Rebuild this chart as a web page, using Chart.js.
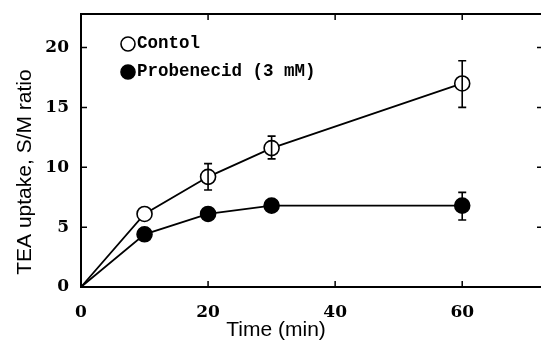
<!DOCTYPE html>
<html>
<head>
<meta charset="utf-8">
<script src="https://cdn.jsdelivr.net/npm/chart.js@4/dist/chart.umd.min.js"></script>
<style>
  html, body { margin: 0; padding: 0; background: #fff; }
  #wrap { width: 541px; height: 344px; }
</style>
</head>
<body>
<div id="wrap"><canvas id="uptakeChart"></canvas></div>
<script>
// time points (min)
const times = [0, 10, 20, 30, 60];
// TEA uptake, S/M ratio
const controlVals = [0, 6.1, 9.2, 11.6, 17.0];
const controlErrLow = [null, null, 8.1, 10.7, 15.0];
const controlErrHigh = [null, null, 10.3, 12.6, 18.9];
const probVals = [0, 4.4, 6.1, 6.8, 6.8];
const probErrLow = [null, null, null, null, 5.6];
const probErrHigh = [null, null, null, null, 7.9];
const seriesNames = ["Contol", "Probenecid (3 mM)"];
const xTitle = "Time (min)";
const yTitle = "TEA uptake, S/M ratio";
const xTickStep = 20;
const yTickStep = 5;

const tickFont = { family: "DejaVu Serif", size: 17, weight: "bold" };

function toPoints(vals) {
    return times.map((t, i) => ({ x: t, y: vals[i] }));
}

// error bars with caps
const errorBars = {
    id: "errorBars",
    afterDatasetsDraw(chart) {
        const { ctx, scales: { x, y } } = chart;
        const sets = [[controlErrLow, controlErrHigh], [probErrLow, probErrHigh]];
        ctx.save();
        ctx.strokeStyle = "#000";
        ctx.lineWidth = 1.6;
        sets.forEach(([lo, hi]) => {
            times.forEach((t, i) => {
                if (lo[i] == null) return;
                const px = x.getPixelForValue(t);
                const y1 = y.getPixelForValue(lo[i]);
                const y2 = y.getPixelForValue(hi[i]);
                ctx.beginPath();
                ctx.moveTo(px, y1); ctx.lineTo(px, y2);
                ctx.moveTo(px - 4, y1); ctx.lineTo(px + 4, y1);
                ctx.moveTo(px - 4, y2); ctx.lineTo(px + 4, y2);
                ctx.stroke();
            });
        });
        ctx.restore();
    }
};

// boxed frame with inward ticks, plus axis titles
const frame = {
    id: "frame",
    beforeDatasetsDraw(chart) {
        const { ctx, chartArea: a, scales: { x, y } } = chart;
        ctx.save();
        ctx.strokeStyle = "#000";
        ctx.lineWidth = 2;
        ctx.beginPath();
        ctx.moveTo(a.right, a.top); ctx.lineTo(a.left, a.top);
        ctx.lineTo(a.left, a.bottom); ctx.lineTo(a.right, a.bottom);
        ctx.stroke();
        ctx.lineWidth = 1.5;
        ctx.beginPath();
        x.ticks.forEach(t => {
            if (t.value === 0) return;
            const px = x.getPixelForValue(t.value);
            ctx.moveTo(px, a.bottom); ctx.lineTo(px, a.bottom - 6);
            ctx.moveTo(px, a.top); ctx.lineTo(px, a.top + 6);
        });
        y.ticks.forEach(t => {
            if (t.value === 0) return;
            const py = y.getPixelForValue(t.value);
            ctx.moveTo(a.left, py); ctx.lineTo(a.left + 6, py);
            ctx.moveTo(a.right, py); ctx.lineTo(a.right - 4, py);
        });
        ctx.stroke();

        // axis titles (set slightly left / low of centre as in the original)
        ctx.fillStyle = "#000";
        ctx.font = "21px 'Liberation Sans'";
        ctx.textAlign = "center";
        ctx.textBaseline = "middle";
        ctx.fillText(xTitle, x.getPixelForValue(30.7), a.bottom + 43);
        ctx.translate(25, y.getPixelForValue(9.6));
        ctx.rotate(-Math.PI / 2);
        ctx.fillText(yTitle, 0, 0);
        ctx.restore();
    }
};

// legend inside the plot area, top-left
const innerLegend = {
    id: "innerLegend",
    afterDraw(chart) {
        const { ctx, chartArea: a } = chart;
        ctx.save();
        ctx.font = "bold 17.5px 'Liberation Mono'";
        ctx.textBaseline = "middle";
        chart.data.datasets.forEach((ds, i) => {
            const cx = a.left + 47;
            const cy = a.top + 30 + i * 28;
            ctx.beginPath();
            ctx.arc(cx, cy, 7, 0, Math.PI * 2);
            ctx.fillStyle = ds.pointBackgroundColor;
            ctx.fill();
            ctx.lineWidth = 1.6;
            ctx.strokeStyle = "#000";
            ctx.stroke();
            ctx.fillStyle = "#000";
            ctx.fillText(ds.label, cx + 9, cy);
        });
        ctx.restore();
    }
};

new Chart(document.getElementById("uptakeChart"), {
    type: "line",
    data: {
        datasets: [
            {
                label: seriesNames[0],
                data: toPoints(controlVals),
                borderColor: "#000",
                borderWidth: 1.8,
                pointRadius: times.map(t => t === 0 ? 0 : 7.5),
                pointBackgroundColor: "#fff",
                pointBorderColor: "#000",
                pointBorderWidth: 1.6,
                tension: 0
            },
            {
                label: seriesNames[1],
                data: toPoints(probVals),
                borderColor: "#000",
                borderWidth: 1.8,
                pointRadius: times.map(t => t === 0 ? 0 : 7.5),
                pointBackgroundColor: "#000",
                pointBorderColor: "#000",
                pointBorderWidth: 1.6,
                tension: 0
            }
        ]
    },
    options: {
        responsive: true,
        maintainAspectRatio: false,
        animation: false,
        layout: { autoPadding: false, padding: { top: 14, right: 0, left: 0, bottom: 0 } },
        plugins: {
            legend: { display: false },
            tooltip: { enabled: false }
        },
        scales: {
            x: {
                type: "linear",
                min: 0,
                max: 72.4,
                grid: { display: false, drawTicks: false },
                border: { display: false },
                afterBuildTicks: s => { s.ticks = s.ticks.filter(t => t.value % xTickStep === 0); },
                afterFit: s => { s.height = 57; s.paddingLeft = 0; s.paddingRight = 0; },
                ticks: { stepSize: xTickStep, color: "#000", font: tickFont, padding: 15, maxRotation: 0 }
            },
            y: {
                min: 0,
                max: 22.8,
                grid: { display: false, drawTicks: false },
                border: { display: false },
                afterBuildTicks: s => { s.ticks = s.ticks.filter(t => t.value % yTickStep === 0); },
                afterFit: s => { s.width = 81; s.paddingTop = 0; s.paddingBottom = 0; },
                ticks: { stepSize: yTickStep, color: "#000", font: tickFont, padding: 12 }
            }
        }
    },
    plugins: [frame, errorBars, innerLegend]
});
</script>
</body>
</html>
